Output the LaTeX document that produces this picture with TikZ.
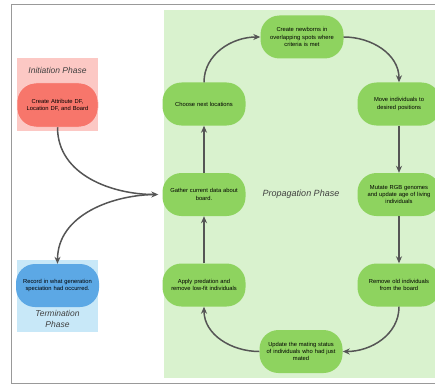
\documentclass[tikz,border=0pt]{standalone}
\usepackage{fontspec}
\setmainfont{Liberation Sans}
\usetikzlibrary{arrows.meta}
\definecolor{bgreen}{HTML}{D9F2CE}
\definecolor{ngreen}{HTML}{8ED35F}
\definecolor{nred}{HTML}{F7766B}
\definecolor{bpink}{HTML}{FCC8C4}
\definecolor{nblue}{HTML}{5CA8E5}
\definecolor{bblue}{HTML}{C8E8F8}
\definecolor{arr}{HTML}{555555}
\tikzset{
  stepnode/.style={rounded corners=19pt, minimum width=83pt, minimum height=43pt,
    text width=81pt, align=center, inner sep=1pt,
    font=\fontsize{5.8}{7.2}\selectfont, text=black},
  gnode/.style={stepnode, fill=ngreen},
  phase/.style={font=\fontsize{8.5}{10.5}\selectfont\itshape, text=black!75, align=center},
  conn/.style={draw=arr, line width=1.5pt, -{Stealth[length=7pt,width=6pt]}},
}
\begin{document}
\begin{tikzpicture}[x=1pt,y=-1pt]
\useasboundingbox (0,0) rectangle (435,385);
\clip (0,0) rectangle (435,385);
\draw[black!40, line width=0.8pt] (11,4) rectangle (450,383);
\fill[bgreen] (164,10) rectangle (450,378);
\fill[bpink] (17,58) rectangle (98,131);
\fill[bblue] (17,260) rectangle (98,332);
\node[phase] (initlabel) at (57.5,70) {Initiation Phase};
\node[stepnode, fill=nred, minimum width=81pt, text width=79pt, minimum height=44pt, draw=white!70!nred, line width=0.5pt] (init) at (57.5,105) {Create Attribute DF,\\Location DF, and Board};
\node[stepnode, fill=nblue, minimum width=81pt, text width=81pt, minimum height=43pt] (term) at (57.5,285.5) {Record in what generation\\speciation had occurred.};
\node[phase] (termlabel) at (57.5,319) {Termination\\Phase};
\node[phase, font=\fontsize{9}{11}\selectfont\itshape] (proplabel) at (301,194) {Propagation Phase};
\node[gnode] (create) at (302,37) {Create newborns in\\overlapping spots where\\criteria is met};
\node[gnode] (choose) at (204,104) {Choose next locations};
\node[gnode] (move) at (399,104) {Move individuals to\\desired positions};
\node[gnode] (gather) at (204,194.5) {Gather current data about\\board.};
\node[gnode] (mutate) at (399,194.5) {Mutate RGB genomes\\and update age of living\\individuals};
\node[gnode] (apply) at (204,285) {Apply predation and\\remove low-fit individuals};
\node[gnode] (remove) at (399,285) {Remove old individuals\\from the board};
\node[gnode] (update) at (301,351.5) {Update the mating status\\of individuals who had just\\mated};
\draw[conn] (choose.north) to[out=90,in=180] (create.west);
\draw[conn] (create.east) to[out=0,in=90] (move.north);
\draw[conn] (move) -- (mutate);
\draw[conn] (mutate) -- (remove);
\draw[conn] (remove.south) to[out=-90,in=0] (update.east);
\draw[conn] (update.west) to[out=180,in=-90] (apply.south);
\draw[conn] (apply) -- (gather);
\draw[conn] (gather) -- (choose);
\draw[conn, shorten >=4pt] (init.south) to[out=-90,in=180] (gather.west);
\draw[conn, shorten <=6pt] (gather.west) to[out=180,in=90] (term.north);
\end{tikzpicture}
\end{document}
